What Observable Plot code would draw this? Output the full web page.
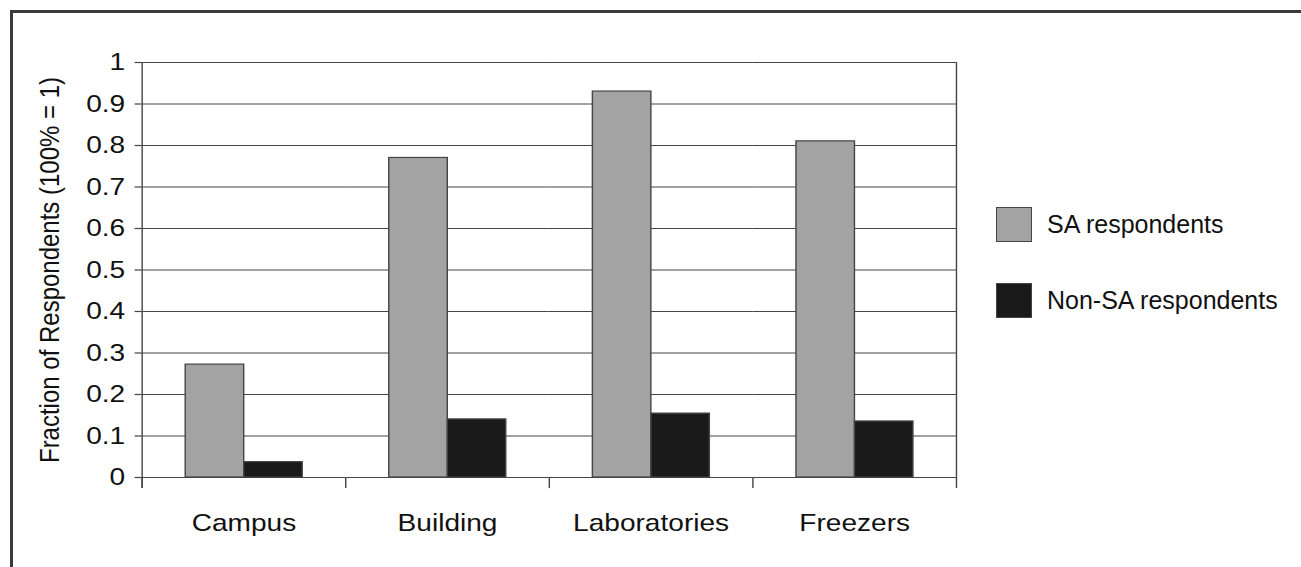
<!DOCTYPE html>
<html>
<head>
<meta charset="utf-8">
<script src="https://cdn.jsdelivr.net/npm/d3@7"></script>
<script src="https://cdn.jsdelivr.net/npm/@observablehq/plot@0.6"></script>
<style>
  html, body { margin: 0; padding: 0; background: #fff; }
  #figure { position: relative; width: 1301px; height: 567px; overflow: hidden; background: #fff;
            font-family: "Liberation Sans", Arial, sans-serif; color: #111; }
  #border { position: absolute; left: 10px; top: 10px; width: 1400px; height: 700px;
            border-top: 3px solid #3a3a3a; border-left: 3px solid #3a3a3a; }
  /* the chart body uses a slightly wide, horizontally stretched lettering */
  #stage { position: absolute; left: 0; top: 0; width: 1112px; height: 567px;
           transform: scaleX(1.17); transform-origin: 0 0; }
  .legend-row { position: absolute; display: flex; align-items: center; font-size: 25px; white-space: nowrap; }
  .swatch { width: 36px; height: 35px; box-sizing: border-box; border: 1px solid #444; margin-right: 15px; }
</style>
</head>
<body>
<div id="figure"><div id="border"></div><div id="stage"></div></div>
<script>
// Survey results: fraction of respondents per location level
const categories = ["Campus", "Building", "Laboratories", "Freezers"];
const seriesNames = ["SA respondents", "Non-SA respondents"];
const saValues = [0.272, 0.77, 0.93, 0.81];
const nonSaValues = [0.037, 0.14, 0.154, 0.135];
const yTicks = [0, 0.1, 0.2, 0.3, 0.4, 0.5, 0.6, 0.7, 0.8, 0.9, 1];
const seriesColors = ["#a3a3a3", "#1a1a1a"];
const yLabel = "Fraction of Respondents (100% = 1)";

// long-format table for grouped bars
const rows = categories.flatMap((c, i) => [
  {category: c, series: seriesNames[0], value: saValues[i]},
  {category: c, series: seriesNames[1], value: nonSaValues[i]}
]);

// layout (unstretched units)
const W = 1112, H = 567;
const marginLeft = 119.7, marginRight = W - 817.9, marginTop = 62, marginBottom = H - 477;
const plotH = H - marginTop - marginBottom;
const tickLen = 10;
const lineColor = "#444";

const chart = Plot.plot({
  width: W,
  height: H,
  marginLeft, marginRight, marginTop, marginBottom,
  style: {fontFamily: '"Liberation Sans", Arial, sans-serif', fontSize: "24px", color: "#111", background: "transparent", overflow: "visible"},
  fx: {domain: categories, padding: 0, label: null},
  x: {domain: seriesNames, paddingInner: 0, paddingOuter: 0.737, axis: null},
  y: {domain: [0, 1]},
  color: {domain: seriesNames, range: seriesColors},
  marks: [
    Plot.gridY(yTicks, {stroke: lineColor, strokeOpacity: 1, strokeWidth: 1.2}),
    Plot.axisY(yTicks, {
      tickSize: 6, tickPadding: 8.5, tickFormat: d => `${d}`, stroke: lineColor, strokeWidth: 1.2,
      label: yLabel, labelAnchor: "center", labelArrow: "none", labelOffset: 88
    }),
    Plot.axisFx({anchor: "bottom", tickSize: 0, tickPadding: 36, label: null}),
    // separator ticks below the baseline at each category boundary
    Plot.frame({anchor: "left", insetTop: plotH, insetBottom: -tickLen, stroke: lineColor, strokeWidth: 1.2}),
    Plot.frame({anchor: "left", facetAnchor: "left", insetBottom: -tickLen, stroke: lineColor, strokeWidth: 1.2}),
    Plot.frame({anchor: "right", facetAnchor: "right", insetBottom: -tickLen, stroke: lineColor, strokeWidth: 1.2}),
    Plot.barY(rows, {fx: "category", x: "series", y: "value", fill: "series", stroke: "#444", strokeWidth: 1.2})
  ]
});

document.getElementById("stage").appendChild(chart);

// legend to the right of the plot
const figure = document.getElementById("figure");
const legendTops = [207, 283];
seriesNames.forEach((name, i) => {
  const row = document.createElement("div");
  row.className = "legend-row";
  row.style.left = "996px";
  row.style.top = legendTops[i] + "px";
  const sw = document.createElement("div");
  sw.className = "swatch";
  sw.style.background = seriesColors[i];
  const label = document.createElement("span");
  label.textContent = name;
  row.appendChild(sw);
  row.appendChild(label);
  figure.appendChild(row);
});
</script>
</body>
</html>
